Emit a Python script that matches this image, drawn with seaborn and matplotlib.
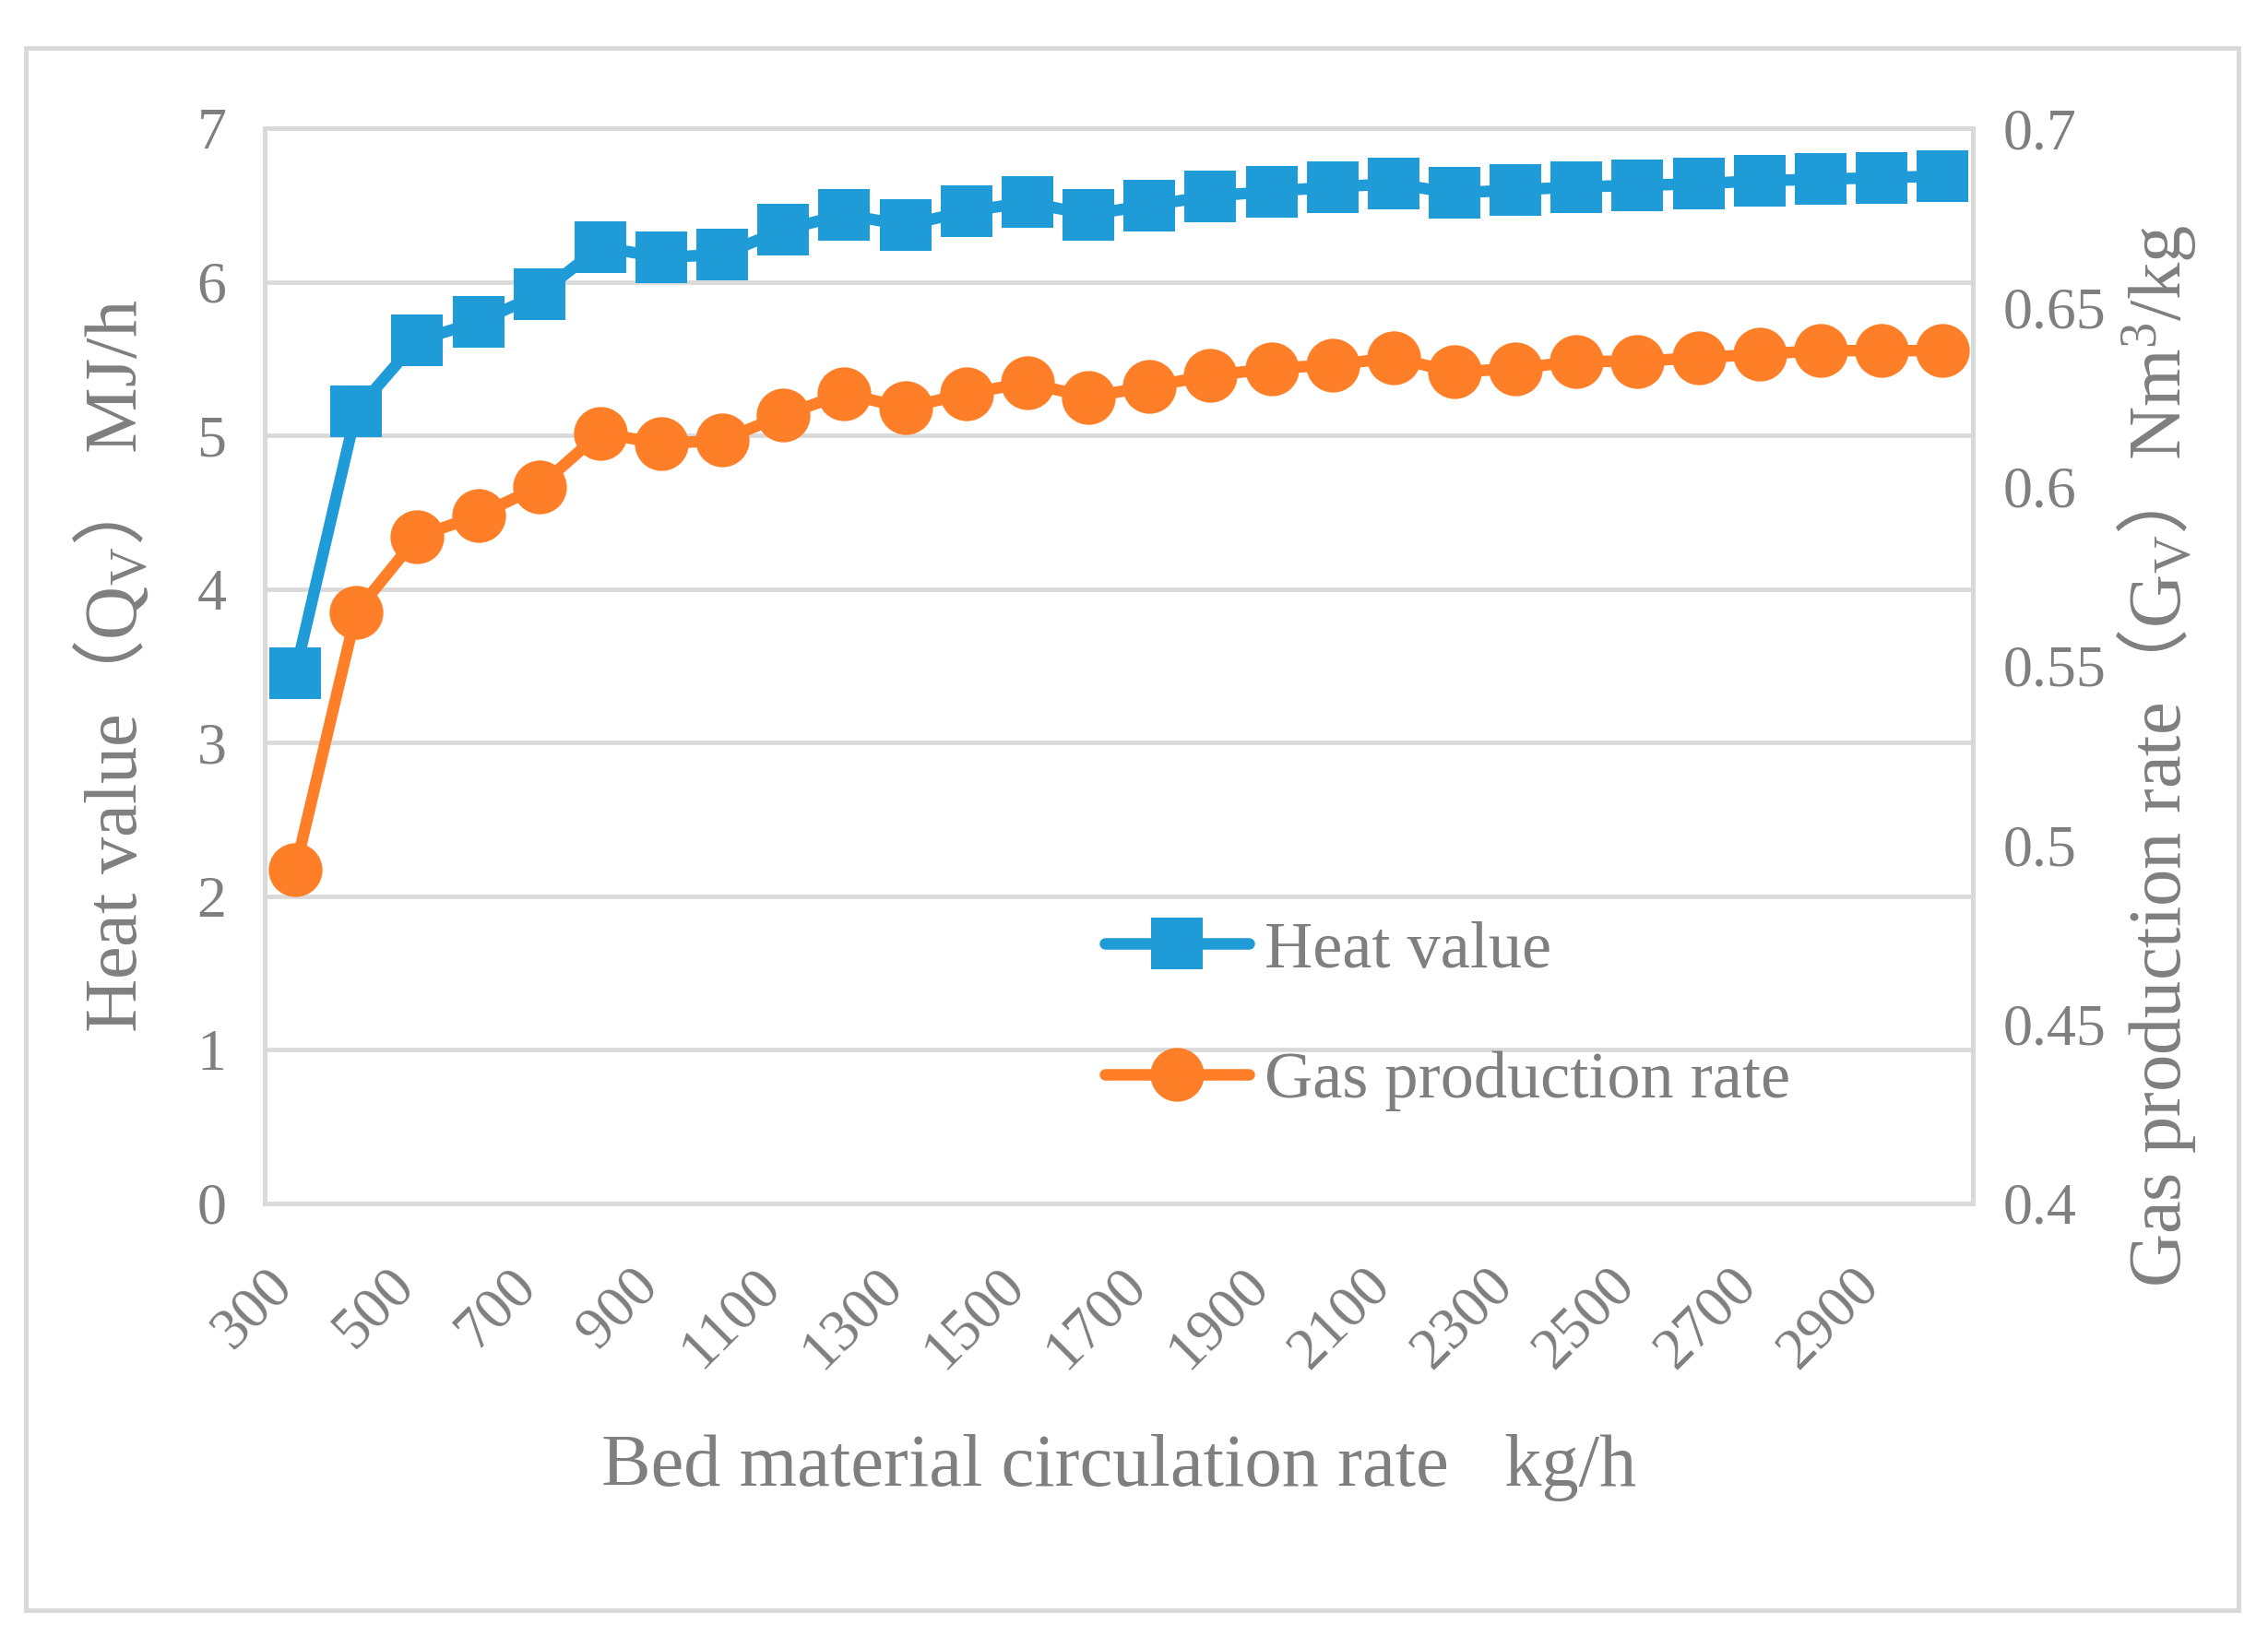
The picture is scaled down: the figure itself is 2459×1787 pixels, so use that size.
import matplotlib
matplotlib.use("Agg")
import matplotlib.pyplot as plt
from matplotlib.patches import Rectangle
from matplotlib.ticker import FuncFormatter
from matplotlib.transforms import ScaledTranslation
import pandas as pd
import seaborn as sns

# bed material circulation rate (kg/h)
rates = [300, 400, 500, 600, 700, 800, 900, 1000, 1100, 1200, 1300, 1400, 1500, 1600,
         1700, 1800, 1900, 2000, 2100, 2200, 2300, 2400, 2500, 2600, 2700, 2800, 2900, 3000]
# heat value Qv (MJ/h)
heat_value = [3.45, 5.16, 5.62, 5.74, 5.92, 6.23, 6.16, 6.18, 6.34, 6.44, 6.37, 6.46, 6.52, 6.44,
              6.50, 6.56, 6.59, 6.62, 6.64, 6.58, 6.60, 6.62, 6.63, 6.64, 6.66, 6.67, 6.68, 6.69]
# gas production rate Gv (Nm3/kg)
gas_rate = [0.493, 0.565, 0.586, 0.592, 0.600, 0.615, 0.612, 0.613, 0.620, 0.626, 0.622, 0.626,
            0.629, 0.625, 0.628, 0.631, 0.633, 0.634, 0.636, 0.632, 0.633, 0.635, 0.635, 0.636,
            0.637, 0.638, 0.638, 0.638]

x_tick_labels = [300, 500, 700, 900, 1100, 1300, 1500, 1700, 1900, 2100, 2300, 2500, 2700, 2900]
left_ticks = [0, 1, 2, 3, 4, 5, 6, 7]
right_ticks = [0.4, 0.45, 0.5, 0.55, 0.6, 0.65, 0.7]

BLUE = "#1F9BD7"
ORANGE = "#FE7F27"
GRID = "#D9D9D9"
TEXT = "#7F7F7F"

sns.set_style("white")
plt.rcParams["font.family"] = ["Liberation Serif", "Noto Sans CJK SC", "DejaVu Sans"]
plt.rcParams["mathtext.fontset"] = "custom"
plt.rcParams["mathtext.rm"] = "Liberation Serif"
plt.rcParams["mathtext.it"] = "Liberation Serif:italic"
# full-width brackets come from the CJK font through \mathsf
plt.rcParams["mathtext.sf"] = "Noto Sans CJK SC"

df = pd.DataFrame({"rate": rates, "heat": heat_value, "gas": gas_rate})

fig = plt.figure(figsize=(24.59, 17.87), dpi=100)
ax = fig.add_axes([0.1167, 0.270, 0.7533, 0.652])
ax2 = ax.twinx()

# outer frame of the figure
fig.patches.append(Rectangle((0.0115, 0.023), 0.9755, 0.948, transform=fig.transFigure,
                             fill=False, edgecolor=GRID, lw=3.5))

sns.lineplot(data=df, x="rate", y="heat", ax=ax, color=BLUE, marker="s", markersize=40,
             markeredgewidth=0, linewidth=9, label="Heat value", legend=False)
sns.lineplot(data=df, x="rate", y="gas", ax=ax2, color=ORANGE, marker="o", markersize=42,
             markeredgewidth=0, linewidth=9, label="Gas production rate", legend=False)

ax.set_xlim(250, 3050)
ax.set_ylim(0, 7)
ax2.set_ylim(0.4, 0.7)
ax.set_xticks(x_tick_labels)
ax.set_yticks(left_ticks)
ax2.set_yticks(right_ticks)
ax2.yaxis.set_major_formatter(FuncFormatter(lambda v, p: f"{v:g}"))

ax.grid(axis="y", color=GRID, linewidth=3.4)
ax.grid(axis="x", visible=False)
ax2.grid(False)
ax.set_axisbelow(True)

for a in (ax, ax2):
    for s in a.spines.values():
        s.set_color(GRID)
        s.set_linewidth(3.4)
    a.tick_params(length=0, labelsize=46, labelcolor=TEXT)
ax.tick_params(axis="y", pad=30)
ax2.tick_params(axis="y", pad=23)
ax.tick_params(axis="x", pad=58)
shift = ScaledTranslation(-0.12, 0, fig.dpi_scale_trans)
for lbl in ax.get_xticklabels():
    lbl.set_rotation(45)
    lbl.set_ha("right")
    lbl.set_va("center")
    lbl.set_rotation_mode("anchor")
    lbl.set_transform(lbl.get_transform() + shift)

ax.set_xlabel("Bed material circulation rate   kg/h", fontsize=58, color=TEXT)
ax.set_ylabel("Heat value$\\mathsf{（}$Q$_{\\mathrm{V}}$$\\mathsf{）}$ MJ/h", fontsize=58, color=TEXT)
ax2.set_ylabel("Gas production rate$\\mathsf{（}$G$_{\\mathrm{V}}$$\\mathsf{）}$Nm$^{3}$/kg",
               fontsize=58, color=TEXT)
ax.xaxis.set_label_coords(0.5, -0.215)
ax.yaxis.set_label_coords(-0.066, 0.5)
ax2.yaxis.set_label_coords(1.083, 0.416)

h1, l1 = ax.get_legend_handles_labels()
h2, l2 = ax2.get_legend_handles_labels()
leg = ax2.legend(h1 + h2, l1 + l2, loc="upper left", bbox_to_anchor=(0.492, 0.263),
                 frameon=False, fontsize=52, handlelength=2.15, handletextpad=0.24,
                 labelspacing=1.05, borderpad=0, borderaxespad=0)
for t in leg.get_texts():
    t.set_color(TEXT)

fig.savefig("out.png", dpi=100)
